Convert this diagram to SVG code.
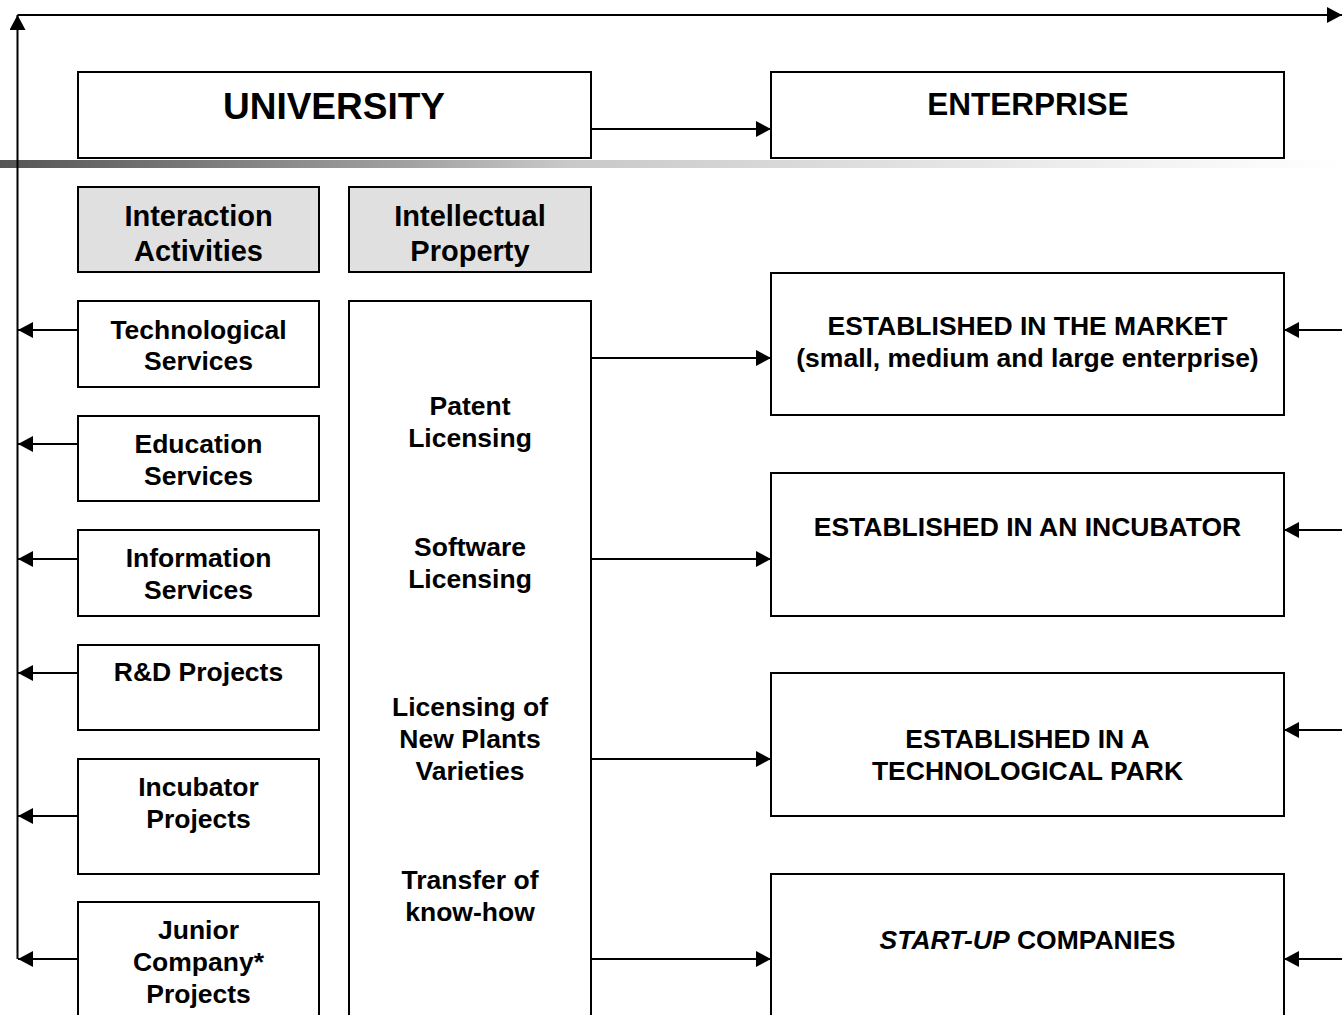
<svg xmlns="http://www.w3.org/2000/svg" width="1342" height="1015" viewBox="0 0 1342 1015">
  <style>
    .box { fill: #ffffff; stroke: #000000; stroke-width: 2; }
    .head { fill: #e0e0e0; stroke: #000000; stroke-width: 2; }
    .t { font-family: "Liberation Sans", Arial, sans-serif; font-weight: bold; font-size: 26.5px; fill: #000000; text-anchor: middle; }
    .th { font-size: 29px; }
    .wire { fill: none; stroke: #000000; stroke-width: 2; marker-end: url(#arrow); }
  </style>
  <defs>
    <marker id="arrow" markerUnits="userSpaceOnUse" markerWidth="15" markerHeight="16" refX="15" refY="8" orient="auto">
      <path d="M0,0 L15,8 L0,16 z" fill="#000000"/>
    </marker>
    <linearGradient id="band" x1="0" y1="0" x2="1" y2="0">
      <stop offset="0" stop-color="#555555"/>
      <stop offset="0.3" stop-color="#a0a0a0"/>
      <stop offset="0.42" stop-color="#c8c8c8"/>
      <stop offset="0.6" stop-color="#dadada"/>
      <stop offset="0.9" stop-color="#f7f7f7"/>
      <stop offset="1" stop-color="#ffffff"/>
    </linearGradient>
  </defs>

  <!-- shaded rule under the top row -->
  <rect x="0" y="160" width="1342" height="8" fill="url(#band)"/>

  <g id="university">
    <rect class="box" x="78" y="72" width="513" height="86"/>
    <text class="t" x="334" y="119" style="font-size:37px">UNIVERSITY</text>
  </g>
  <g id="enterprise">
    <rect class="box" x="771" y="72" width="513" height="86"/>
    <text class="t" x="1028" y="115" style="font-size:31.5px">ENTERPRISE</text>
  </g>

  <g id="interaction-activities">
    <rect class="head" x="78" y="187" width="241" height="85"/>
    <text class="t th" x="198.5" y="226">Interaction</text>
    <text class="t th" x="198.5" y="261">Activities</text>
  </g>
  <g id="intellectual-property">
    <rect class="head" x="349" y="187" width="242" height="85"/>
    <text class="t th" x="470" y="226">Intellectual</text>
    <text class="t th" x="470" y="261">Property</text>
  </g>

  <g id="technological-services">
    <rect class="box" x="78" y="301" width="241" height="86"/>
    <text class="t" x="198.5" y="339">Technological</text>
    <text class="t" x="198.5" y="370">Services</text>
  </g>
  <g id="education-services">
    <rect class="box" x="78" y="416" width="241" height="85"/>
    <text class="t" x="198.5" y="453">Education</text>
    <text class="t" x="198.5" y="485">Services</text>
  </g>
  <g id="information-services">
    <rect class="box" x="78" y="530" width="241" height="86"/>
    <text class="t" x="198.5" y="567">Information</text>
    <text class="t" x="198.5" y="599">Services</text>
  </g>
  <g id="rd-projects">
    <rect class="box" x="78" y="645" width="241" height="85"/>
    <text class="t" x="198.5" y="681">R&amp;D Projects</text>
  </g>
  <g id="incubator-projects">
    <rect class="box" x="78" y="759" width="241" height="115"/>
    <text class="t" x="198.5" y="796">Incubator</text>
    <text class="t" x="198.5" y="828">Projects</text>
  </g>
  <g id="junior-company-projects">
    <rect class="box" x="78" y="902" width="241" height="130"/>
    <text class="t" x="198.5" y="939">Junior</text>
    <text class="t" x="198.5" y="971">Company*</text>
    <text class="t" x="198.5" y="1003">Projects</text>
  </g>

  <g id="ip-mechanisms">
    <rect class="box" x="349" y="301" width="242" height="730"/>
    <text class="t" x="470" y="415">Patent</text>
    <text class="t" x="470" y="447">Licensing</text>
    <text class="t" x="470" y="556">Software</text>
    <text class="t" x="470" y="588">Licensing</text>
    <text class="t" x="470" y="716">Licensing of</text>
    <text class="t" x="470" y="748">New Plants</text>
    <text class="t" x="470" y="780">Varieties</text>
    <text class="t" x="470" y="889">Transfer of</text>
    <text class="t" x="470" y="921">know-how</text>
  </g>

  <g id="established-market">
    <rect class="box" x="771" y="273" width="513" height="142"/>
    <text class="t" x="1027.5" y="335">ESTABLISHED IN THE MARKET</text>
    <text class="t" x="1027.5" y="367">(small, medium and large enterprise)</text>
  </g>
  <g id="established-incubator">
    <rect class="box" x="771" y="473" width="513" height="143"/>
    <text class="t" x="1027.5" y="536">ESTABLISHED IN AN INCUBATOR</text>
  </g>
  <g id="established-park">
    <rect class="box" x="771" y="673" width="513" height="143"/>
    <text class="t" x="1027.5" y="748">ESTABLISHED IN A</text>
    <text class="t" x="1027.5" y="780">TECHNOLOGICAL PARK</text>
  </g>
  <g id="start-up">
    <rect class="box" x="771" y="874" width="513" height="160"/>
    <text class="t" x="1027.5" y="949"><tspan font-style="italic">START-UP</tspan> COMPANIES</text>
  </g>

  <g id="connectors">
    <!-- feedback loop round the outside -->
    <path class="wire" d="M17.5,959 L17.5,15"/>
    <path class="wire" d="M17.5,15 L1342,15"/>

    <!-- interaction activities back to the loop -->
    <path class="wire" d="M78,330 L18,330"/>
    <path class="wire" d="M78,444 L18,444"/>
    <path class="wire" d="M78,559 L18,559"/>
    <path class="wire" d="M78,673 L18,673"/>
    <path class="wire" d="M78,816 L18,816"/>
    <path class="wire" d="M78,959 L18,959"/>

    <!-- university to enterprise -->
    <path class="wire" d="M591,129 L771,129"/>

    <!-- intellectual property to enterprise types -->
    <path class="wire" d="M591,358 L771,358"/>
    <path class="wire" d="M591,559 L771,559"/>
    <path class="wire" d="M591,759 L771,759"/>
    <path class="wire" d="M591,959 L771,959"/>

    <!-- enterprises feeding back from the right -->
    <path class="wire" d="M1342,330 L1284,330"/>
    <path class="wire" d="M1342,530 L1284,530"/>
    <path class="wire" d="M1342,730 L1284,730"/>
    <path class="wire" d="M1342,959 L1284,959"/>
  </g>
</svg>
